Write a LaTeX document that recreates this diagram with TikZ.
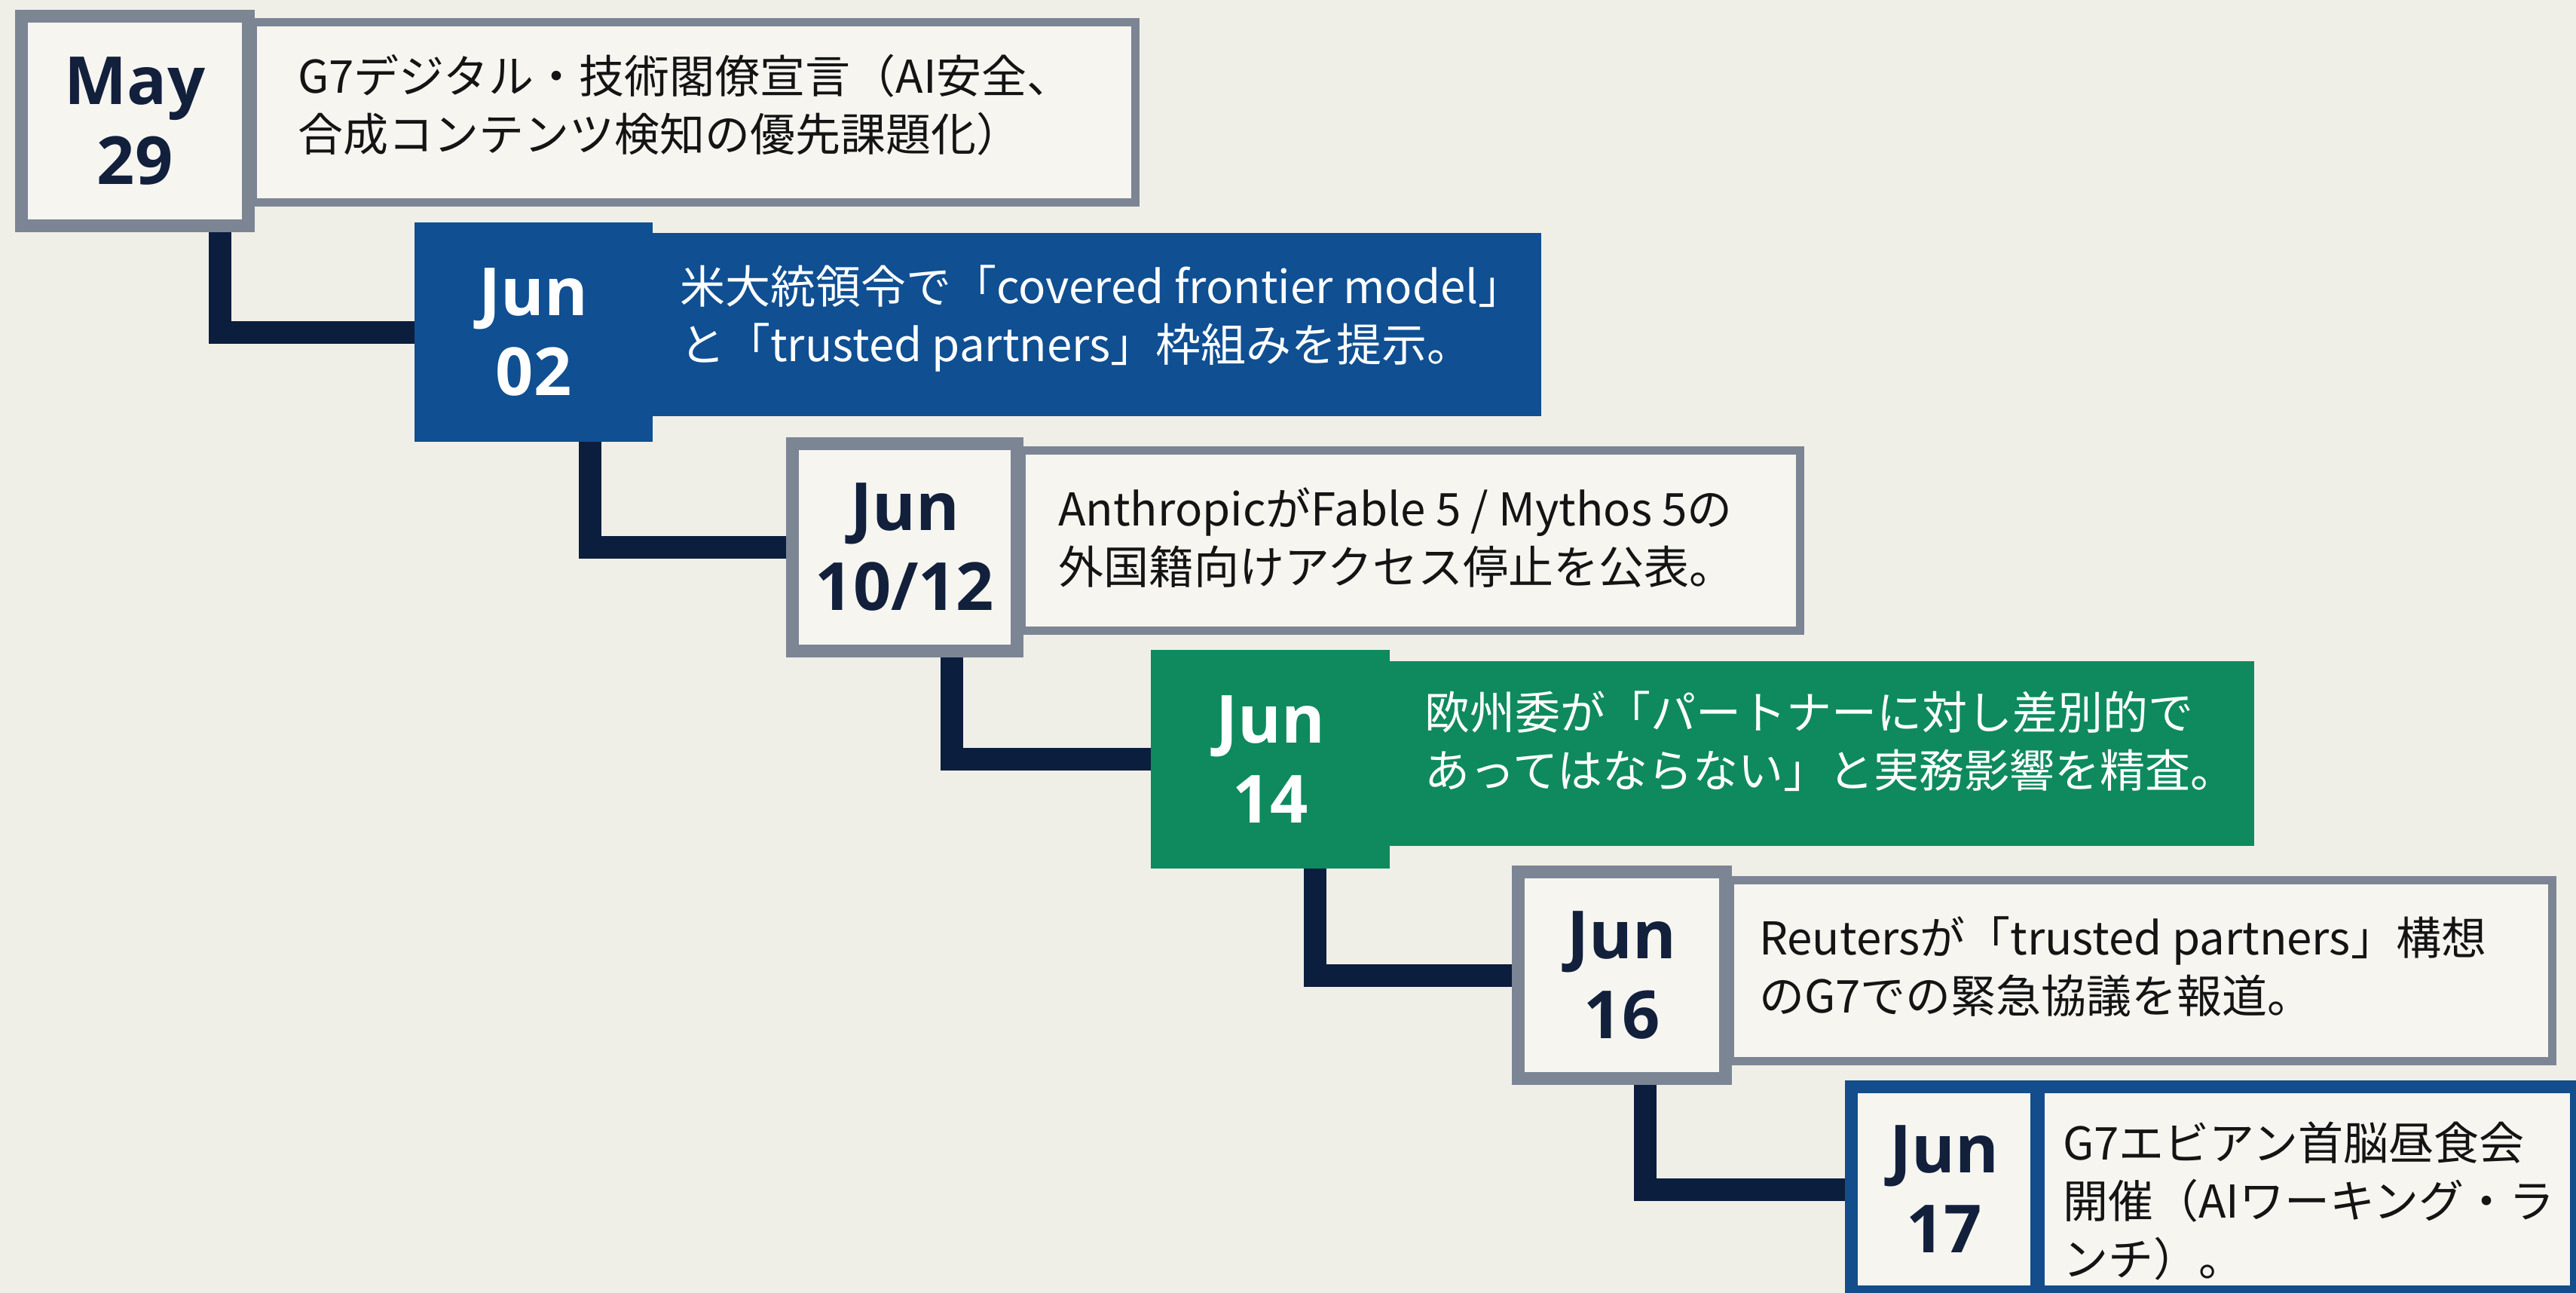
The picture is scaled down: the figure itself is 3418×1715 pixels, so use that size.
\documentclass[tikz,border=0pt]{standalone}
\usepackage{fontspec}
\newfontfamily\jpfont{Noto Sans CJK JP}
\newfontfamily\datefont{Open Sans}
\definecolor{bgc}{HTML}{F0EFE7}
\definecolor{cellc}{HTML}{F6F5F0}
\definecolor{grayb}{HTML}{7C8594}
\definecolor{navyc}{HTML}{0B1E3D}
\definecolor{datec}{HTML}{12203C}
\definecolor{blueA}{HTML}{0F4F92}
\definecolor{greenA}{HTML}{0E8A5E}
\definecolor{blueB}{HTML}{134D8B}
\definecolor{txtc}{HTML}{141414}
\pgfdeclarelayer{under}
\pgfsetlayers{under,main}
\tikzset{
  box/.style={rectangle, inner sep=0pt, outer sep=0pt},
  datetxt/.style={align=center, font=\datefont\bfseries\fontsize{88}{106}\selectfont, text=datec},
  graydate/.style={box, datetxt, fill=cellc, draw=grayb, line width=17pt},
  graytext/.style={box, fill=cellc, draw=grayb, line width=11pt},
  bluedate/.style={box, datetxt, text=white, fill=blueA},
  bluetext/.style={box, fill=blueA},
  greendate/.style={box, datetxt, text=white, fill=greenA},
  greentext/.style={box, fill=greenA},
  framedate/.style={box, datetxt, fill=cellc, draw=blueB, line width=17pt},
  frametext/.style={box, fill=cellc, draw=blueB, line width=17pt},
  desc/.style={inner sep=0pt, anchor=west, align=left, font=\jpfont\fontsize{60}{77}\selectfont, text=txtc},
  conn/.style={draw=navyc, line width=30pt, line join=miter},
}
\begin{document}
\begin{tikzpicture}[x=1pt, y=-1pt]
\useasboundingbox (0,0) rectangle (3418,1715);
\begin{pgfonlayer}{under}
  \fill[bgc] (0,0) rectangle (3418,1715);
\end{pgfonlayer}

% Box 1
\node[graytext, minimum width=1171pt, minimum height=239pt] (t1box) at (921,149) {};
\node[graydate, minimum width=301pt, minimum height=278pt] (d1) at (179,160.5) {May\\29};
\node[desc] (t1) at (395,139) {G7デジタル・技術閣僚宣言（AI安全、\\合成コンテンツ検知の優先課題化）};

% Box 2
\node[bluetext, minimum width=1185pt, minimum height=243pt] (t2box) at (1452.5,430.5) {};
\node[bluedate, minimum width=316pt, minimum height=291pt] (d2) at (708,440.5) {Jun\\02};
\node[desc, text=white] (t2) at (902,422) {米大統領令で「covered frontier model」\\と「trusted partners」枠組みを提示。};

% Box 3
\node[graytext, minimum width=1033pt, minimum height=239pt] (t3box) at (1872,717) {};
\node[graydate, minimum width=298pt, minimum height=275pt] (d3) at (1200.5,726) {Jun\\10/12};
\node[desc] (t3) at (1404,713) {AnthropicがFable 5 / Mythos 5の\\外国籍向けアクセス停止を公表。};

% Box 4
\node[greentext, minimum width=1153pt, minimum height=245pt] (t4box) at (2414.5,999.5) {};
\node[greendate, minimum width=317pt, minimum height=290pt] (d4) at (1685.5,1007) {Jun\\14};
\node[desc, text=white] (t4) at (1890,983) {欧州委が「パートナーに対し差別的で\\あってはならない」と実務影響を精査。};

% Box 5
\node[graytext, minimum width=1091pt, minimum height=240pt] (t5box) at (2841,1287.5) {};
\node[graydate, minimum width=275pt, minimum height=274pt] (d5) at (2152,1293.5) {Jun\\16};
\node[desc] (t5) at (2334,1282) {Reutersが「trusted partners」構想\\のG7での緊急協議を報道。};

% Box 6 (runs off the page)
\begin{scope}
  \clip (0,0) rectangle (3418,1715);
  \node[frametext, minimum width=714pt, minimum height=272pt] (t6box) at (3061.5,1577.5) {};
  \node[framedate, minimum width=246pt, minimum height=272pt] (d6) at (2579.5,1577.5) {Jun\\17};
  \node[desc] (t6) at (2737,1593) {G7エビアン首脳昼食会\\開催（AIワーキング・ラ\\ンチ）。};
\end{scope}

% Connectors
\coordinate (k1) at (292,0);
\coordinate (k2) at (783,0);
\coordinate (k3) at (1263,0);
\coordinate (k4) at (1745,0);
\coordinate (k5) at (2183,0);
\begin{pgfonlayer}{under}
  \draw[conn] (d1.south -| k1) |- (d2.west);
  \draw[conn] (d2.south -| k2) |- (d3.west);
  \draw[conn] (d3.south -| k3) |- (d4.west);
  \draw[conn] (d4.south -| k4) |- (d5.west);
  \draw[conn] (d5.south -| k5) |- (d6.west);
\end{pgfonlayer}
\end{tikzpicture}
\end{document}
